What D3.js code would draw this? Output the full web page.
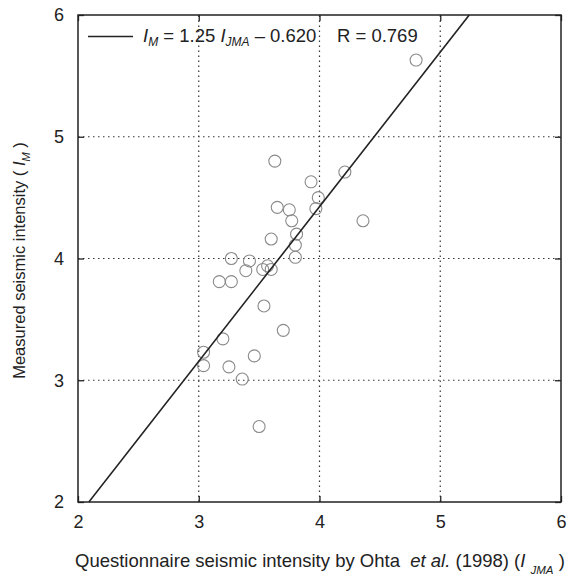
<!DOCTYPE html>
<html>
<head>
<meta charset="utf-8">
<script src="https://d3js.org/d3.v7.min.js"></script>
<style>
  body { margin: 0; background: #fff; }
  text { font-family: "Liberation Sans", Arial, sans-serif; fill: #222; white-space: pre; }
</style>
</head>
<body>
<svg></svg>
<script>
let width = 568, height = 577;

// questionnaire intensity (x) vs measured intensity (y)
let ijma = [3.63, 3.93, 4.21, 3.99, 3.97, 3.65, 3.75, 3.77, 4.36, 3.81, 3.80, 3.60, 3.80,
            3.27, 3.42, 3.39, 3.53, 3.57, 3.60, 3.17, 3.27, 3.54, 3.70, 3.20, 3.04, 3.46,
            3.04, 3.25, 3.36, 3.50, 4.80];
let im   = [4.80, 4.63, 4.71, 4.50, 4.41, 4.42, 4.40, 4.31, 4.31, 4.20, 4.11, 4.16, 4.01,
            4.00, 3.98, 3.90, 3.91, 3.94, 3.91, 3.81, 3.81, 3.61, 3.41, 3.34, 3.23, 3.20,
            3.12, 3.11, 3.01, 2.62, 5.63];

// regression line ends as drawn
let fitX = [2.09, 5.24];
let fitY = [2, 6];

let ticks = [2, 3, 4, 5, 6];

let margin = {left: 78, right: 7, top: 15, bottom: 75};

let svg = d3.select("svg")
    .attr("width", width)
    .attr("height", height);

let x = d3.scaleLinear().domain([2, 6]).range([margin.left, width - margin.right]);
let y = d3.scaleLinear().domain([2, 6]).range([height - margin.bottom, margin.top]);

// dotted grid
svg.append("g")
  .selectAll("line")
  .data(ticks.slice(1, -1))
  .enter()
  .append("line")
    .attr("x1", d => x(d)).attr("x2", d => x(d))
    .attr("y1", y(2)).attr("y2", y(6))
    .attr("stroke", "#333").attr("stroke-width", 1.2)
    .attr("stroke-dasharray", "1.5,3.5");

svg.append("g")
  .selectAll("line")
  .data(ticks.slice(1, -1))
  .enter()
  .append("line")
    .attr("y1", d => y(d)).attr("y2", d => y(d))
    .attr("x1", x(2)).attr("x2", x(6))
    .attr("stroke", "#333").attr("stroke-width", 1.2)
    .attr("stroke-dasharray", "1.5,3.5");

// axes with inward ticks
let plotH = y(2) - y(6), plotW = x(6) - x(2);
let fmt = d3.format("d");

let axB = svg.append("g").attr("transform", "translate(0," + y(2) + ")")
  .call(d3.axisBottom(x).tickValues(ticks).tickFormat(fmt).tickSizeInner(-6).tickSizeOuter(0).tickPadding(13));
let axT = svg.append("g").attr("transform", "translate(0," + y(6) + ")")
  .call(d3.axisTop(x).tickValues(ticks).tickSizeInner(-6).tickSizeOuter(0).tickFormat(""));
let axL = svg.append("g").attr("transform", "translate(" + x(2) + ",0)")
  .call(d3.axisLeft(y).tickValues(ticks).tickFormat(fmt).tickSizeInner(-6).tickSizeOuter(0).tickPadding(14));
let axR = svg.append("g").attr("transform", "translate(" + x(6) + ",0)")
  .call(d3.axisRight(y).tickValues(ticks).tickSizeInner(-6).tickSizeOuter(0).tickFormat(""));

[axB, axT, axL, axR].forEach(a => {
  a.select(".domain").remove();
  a.selectAll(".tick line").attr("stroke", "#222").attr("stroke-width", 1.3);
  a.selectAll("text").attr("font-size", 18).attr("font-family", "Liberation Sans, Arial, sans-serif").attr("fill", "#222");
});

svg.append("rect")
    .attr("x", x(2)).attr("y", y(6))
    .attr("width", plotW).attr("height", plotH)
    .attr("fill", "none").attr("stroke", "#222").attr("stroke-width", 1.5);

// points
svg.append("g")
  .selectAll("circle")
  .data(ijma.map((d, i) => [d, im[i]]))
  .enter()
  .append("circle")
    .attr("cx", d => x(d[0]))
    .attr("cy", d => y(d[1]))
    .attr("r", 6)
    .attr("fill", "none")
    .attr("stroke", "#8a8a8a")
    .attr("stroke-width", 1.1);

// regression line
svg.append("line")
    .attr("x1", x(fitX[0])).attr("y1", y(fitY[0]))
    .attr("x2", x(fitX[1])).attr("y2", y(fitY[1]))
    .attr("stroke", "#222").attr("stroke-width", 1.6);

// legend
svg.append("line")
    .attr("x1", 88).attr("x2", 133).attr("y1", 36.5).attr("y2", 36.5)
    .attr("stroke", "#222").attr("stroke-width", 1.4);

let leg = svg.append("text").attr("x", 143).attr("y", 42).attr("font-size", 18.5);
leg.append("tspan").attr("font-style", "italic").text("I");
leg.append("tspan").attr("font-style", "italic").attr("font-size", 12).attr("dy", 4).text("M");
leg.append("tspan").attr("dy", -4).text(" = 1.25 ");
leg.append("tspan").attr("font-style", "italic").text("I");
leg.append("tspan").attr("font-style", "italic").attr("font-size", 12).attr("dy", 4).text("JMA");
leg.append("tspan").attr("dy", -4).text(" \u2013 0.620    R = 0.769");

// x title
let xt = svg.append("text").attr("x", 75).attr("y", 567).attr("font-size", 18.5);
xt.append("tspan").text("Questionnaire seismic intensity by Ohta  ");
xt.append("tspan").attr("font-style", "italic").text("et al.");
xt.append("tspan").text(" (1998) (");
xt.append("tspan").attr("font-style", "italic").text("I ");
xt.append("tspan").attr("font-style", "italic").attr("font-size", 11.5).attr("dy", 7).text("JMA");
xt.append("tspan").attr("dy", -7).text(" )");

// y title
let yt = svg.append("text")
    .attr("transform", "translate(25," + ((y(2) + y(6)) / 2 + 2) + ") rotate(-90)")
    .attr("text-anchor", "middle")
    .attr("font-size", 16.5);
yt.append("tspan").text("Measured seismic intensity ( ");
yt.append("tspan").attr("font-style", "italic").text("I");
yt.append("tspan").attr("font-style", "italic").attr("font-size", 11).attr("dy", 5).text("M");
yt.append("tspan").attr("dy", -5).text(" )");
</script>
</body>
</html>
